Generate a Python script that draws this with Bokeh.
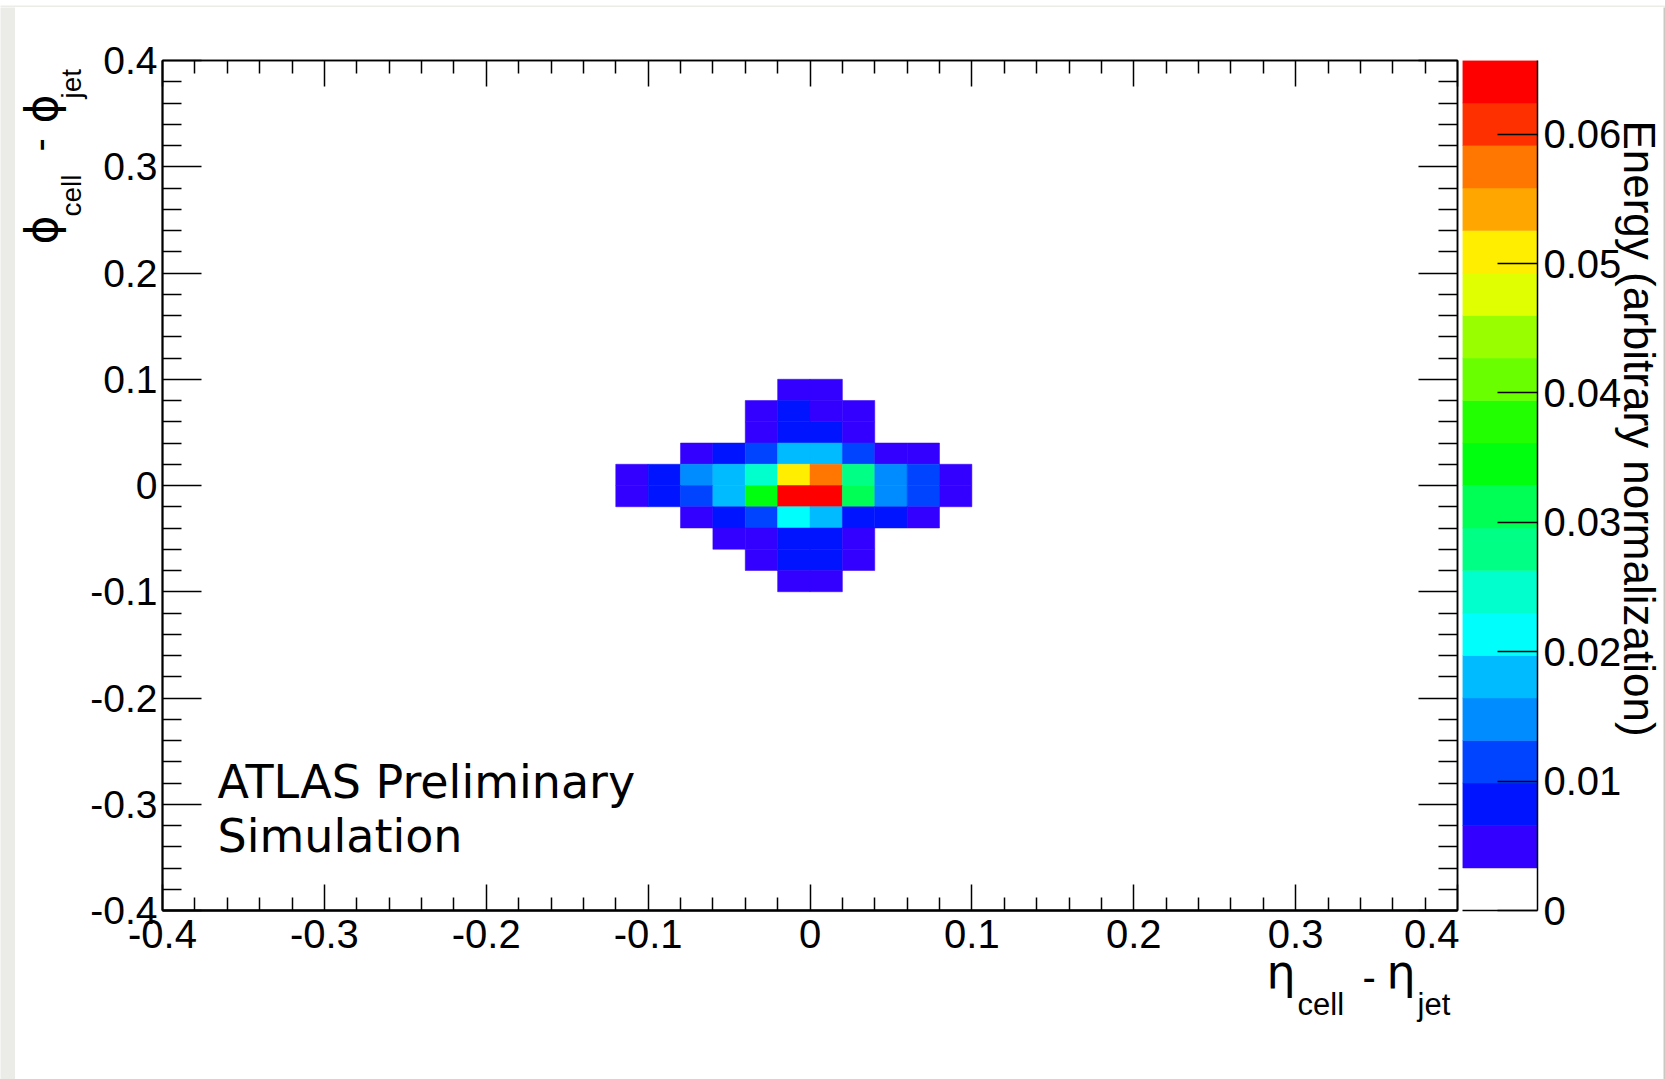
import math
import numpy as np
from bokeh.plotting import figure
from bokeh.models import (Range1d, LinearAxis, FixedTicker, Label, ColumnDataSource,
                          LinearColorMapper)
from bokeh.layouts import row, column
from bokeh.transform import transform
from bokeh.embed import file_html
from bokeh.resources import INLINE

# ---------------- data ----------------
# lower edges of the eta / phi bins (bin width 0.02)
eta_low = [-0.12, -0.10, -0.08, -0.06, -0.04, -0.02, 0.00, 0.02, 0.04, 0.06, 0.08]
phi_low = [0.08, 0.06, 0.04, 0.02, 0.00, -0.02, -0.04, -0.06, -0.08, -0.10]
bin_width = 0.02

# energy per cell, one row per phi bin (top to bottom), one column per eta bin
energy_phi_p08 = [0, 0, 0, 0, 0, 0.0048, 0.0045, 0, 0, 0, 0]
energy_phi_p06 = [0, 0, 0, 0, 0.0052, 0.0078, 0.0056, 0.0041, 0, 0, 0]
energy_phi_p04 = [0, 0, 0, 0, 0.0058, 0.0088, 0.0080, 0.0050, 0, 0, 0]
energy_phi_p02 = [0, 0, 0.0040, 0.0085, 0.0118, 0.0182, 0.0176, 0.0112, 0.0051, 0.0043, 0]
energy_phi_p00 = [0.0046, 0.0080, 0.0150, 0.0185, 0.0250, 0.0510, 0.0575, 0.0282, 0.0147, 0.0115, 0.0045]
energy_phi_m02 = [0.0047, 0.0079, 0.0120, 0.0178, 0.0345, 0.0657, 0.0640, 0.0312, 0.0150, 0.0113, 0.0044]
energy_phi_m04 = [0, 0, 0.0048, 0.0084, 0.0110, 0.0215, 0.0185, 0.0088, 0.0076, 0.0049, 0]
energy_phi_m06 = [0, 0, 0, 0.0042, 0.0055, 0.0086, 0.0083, 0.0053, 0, 0, 0]
energy_phi_m08 = [0, 0, 0, 0, 0.0049, 0.0078, 0.0081, 0.0047, 0, 0, 0]
energy_phi_m10 = [0, 0, 0, 0, 0, 0.0045, 0.0043, 0, 0, 0, 0]
energy_rows = [energy_phi_p08, energy_phi_p06, energy_phi_p04, energy_phi_p02, energy_phi_p00,
               energy_phi_m02, energy_phi_m04, energy_phi_m06, energy_phi_m08, energy_phi_m10]

x_ticks = [-0.4, -0.3, -0.2, -0.1, 0.0, 0.1, 0.2, 0.3, 0.4]
x_tick_labels = ["-0.4", "-0.3", "-0.2", "-0.1", "0", "0.1", "0.2", "0.3", "0.4"]
y_ticks = [-0.4, -0.3, -0.2, -0.1, 0.0, 0.1, 0.2, 0.3, 0.4]
y_tick_labels = ["-0.4", "-0.3", "-0.2", "-0.1", "0", "0.1", "0.2", "0.3", "0.4"]
z_ticks = [0.0, 0.01, 0.02, 0.03, 0.04, 0.05, 0.06]
z_tick_labels = ["0", "0.01", "0.02", "0.03", "0.04", "0.05", "0.06"]
n_contours = 20

# ROOT "pretty" palette sampled at 20 contours (lowest contour left white)
palette = ["#ffffff", "#3300ff", "#0014ff", "#0044ff", "#008bff", "#00bbff", "#00fffc",
           "#00ffcc", "#00ff85", "#00ff55", "#00ff0e", "#22ff00", "#69ff00", "#99ff00",
           "#e0ff00", "#ffee00", "#ffa700", "#ff7700", "#ff3000", "#ff0000"]

# ---------------- geometry / style ----------------
FONT = "Liberation Sans"
GREEK = "DejaVu Sans"
GREY_LIGHT = "#ebebe8"
GREY_DARK = "#c9c9c1"
W, H = 1665, 1079
TOP, LEFT, RIGHT = 7, 15, 5
YT_W = 71                      # room for the rotated y title
P_LB, FRAME_W, P_RB = 76, 1295, 2
P_TB, FRAME_H, P_BB = 53, 850, 55
CB_LB, CB_W, CB_RB = 3, 75, 84
FRAME_L = LEFT + YT_W + P_LB    # 162
FRAME_T = TOP + P_TB            # 60
INNER_W = P_LB + FRAME_W + P_RB + CB_LB + CB_W + CB_RB
CBT_W = W - LEFT - YT_W - INNER_W - RIGHT
P_H = P_TB + FRAME_H + P_BB
XT_H = H - TOP - P_H
BASE_SHIFT = 0.36              # label anchor -> alphabetic baseline correction (em)

zmax = max(max(r) for r in energy_rows)

cells = dict(left=[], right=[], top=[], bottom=[], energy=[])
for phi0, vals in zip(phi_low, energy_rows):
    for eta0, v in zip(eta_low, vals):
        if v > 0:
            cells["left"].append(eta0)
            cells["right"].append(eta0 + bin_width)
            cells["bottom"].append(phi0)
            cells["top"].append(phi0 + bin_width)
            cells["energy"].append(v)
src = ColumnDataSource(cells)

mapper = LinearColorMapper(palette=palette, low=0.0, high=zmax)


def blank(width, height, x_range, y_range, fill="white"):
    f = figure(frame_width=width, frame_height=height, x_range=x_range, y_range=y_range,
               min_border=0, x_axis_type=None, y_axis_type=None,
               output_backend="svg", toolbar_location=None)
    f.grid.visible = False
    f.outline_line_color = None
    f.background_fill_color = fill
    f.border_fill_color = fill
    return f


# ---------------- main plot ----------------
p = figure(x_range=Range1d(-0.4, 0.4), y_range=Range1d(-0.4, 0.4),
           frame_width=FRAME_W, frame_height=FRAME_H,
           min_border_left=P_LB, min_border_right=P_RB,
           min_border_top=P_TB, min_border_bottom=P_BB,
           x_axis_type=None, y_axis_type=None,
           output_backend="svg", toolbar_location=None)
p.grid.visible = False
p.outline_line_color = "black"
p.outline_line_width = 1.5
p.background_fill_color = "white"
p.border_fill_color = "white"

p.quad(left="left", right="right", top="top", bottom="bottom", source=src,
       fill_color=transform("energy", mapper), line_color=transform("energy", mapper),
       line_width=0.5)


def minor_of(ticks, n=5):
    out = []
    for a, b in zip(ticks[:-1], ticks[1:]):
        for k in range(1, n):
            out.append(a + (b - a) * k / n)
    return out


def style_axis(ax, ticks, labels, tick_in, show_labels, line_width, size="40px"):
    ax.ticker = FixedTicker(ticks=ticks, minor_ticks=minor_of(ticks))
    ax.major_tick_in = tick_in
    ax.major_tick_out = 0
    ax.minor_tick_in = tick_in // 2
    ax.minor_tick_out = 0
    ax.axis_line_width = line_width
    ax.axis_line_color = "black"
    ax.major_tick_line_width = 1.5
    ax.minor_tick_line_width = 1.5
    ax.major_tick_line_color = "black"
    ax.minor_tick_line_color = "black"
    if show_labels:
        ax.major_label_overrides = dict(zip(ticks, labels))
        ax.major_label_text_font = FONT
        ax.major_label_text_font_size = size
        ax.major_label_text_color = "black"
    else:
        ax.major_label_overrides = {t: "" for t in ticks}
        ax.major_label_text_font_size = "0px"
        ax.major_label_standoff = 0


xb = LinearAxis()
style_axis(xb, x_ticks, x_tick_labels, 26, True, 2.5)
xb.major_label_standoff = 9
p.add_layout(xb, "below")
xt_ax = LinearAxis()
style_axis(xt_ax, x_ticks, x_tick_labels, 26, False, 1.5)
p.add_layout(xt_ax, "above")
yl = LinearAxis()
style_axis(yl, y_ticks, y_tick_labels, 39, True, 2, size="39px")
yl.major_label_standoff = 5
p.add_layout(yl, "left")
yr = LinearAxis()
style_axis(yr, y_ticks, y_tick_labels, 39, False, 1.5)
p.add_layout(yr, "right")


def px2x(px):
    return -0.4 + (px - FRAME_L) / FRAME_W * 0.8


def py2y(py):
    return 0.4 - (py - FRAME_T) / FRAME_H * 0.8


# ATLAS label inside the frame
for txt, base in (("ATLAS Preliminary", 798), ("Simulation", 852)):
    d = BASE_SHIFT * 46
    p.add_layout(Label(x=px2x(217), y=py2y(base - d), text=txt, text_font=GREEK,
                       text_font_size="46px", text_color="black",
                       text_baseline="alphabetic"))

# ---------------- colour scale ----------------
cb = figure(x_range=Range1d(0, 1), y_range=Range1d(0, zmax),
            frame_width=CB_W, frame_height=FRAME_H,
            min_border_left=CB_LB, min_border_right=CB_RB,
            min_border_top=P_TB, min_border_bottom=P_BB,
            x_axis_type=None, y_axis_type=None,
            output_backend="svg", toolbar_location=None)
cb.grid.visible = False
cb.outline_line_color = None
cb.background_fill_color = "white"
cb.border_fill_color = "white"

edges = np.linspace(0.0, zmax, n_contours + 1)
bands = ColumnDataSource(dict(bottom=edges[:-1], top=edges[1:],
                              mid=0.5 * (edges[:-1] + edges[1:])))
cb.quad(left=0, right=1, bottom="bottom", top="top", source=bands,
        fill_color=transform("mid", mapper), line_color=transform("mid", mapper),
        line_width=0.5)

zr = LinearAxis()
zr.ticker = FixedTicker(ticks=z_ticks, minor_ticks=[])
zr.major_label_overrides = dict(zip(z_ticks, z_tick_labels))
zr.major_tick_in = 40
zr.major_tick_out = 0
zr.major_tick_line_width = 1.5
zr.major_tick_line_color = "black"
zr.axis_line_width = 1.5
zr.axis_line_color = "black"
zr.major_label_text_font = FONT
zr.major_label_text_font_size = "40px"
zr.major_label_text_color = "black"
zr.major_label_standoff = 6
cb.add_layout(zr, "right")

zb = LinearAxis()
zb.ticker = FixedTicker(ticks=[], minor_ticks=[])
zb.axis_line_width = 1.5
zb.axis_line_color = "black"
zb.major_label_text_font_size = "0px"
zb.major_label_standoff = 0
cb.add_layout(zb, "below")

# ---------------- base page ----------------
top_bar = blank(W, TOP, Range1d(0, 1), Range1d(0, 1), fill=GREY_LIGHT)
left_bar = blank(LEFT, H - TOP, Range1d(0, 1), Range1d(0, 1), fill=GREY_LIGHT)
right_bar = blank(RIGHT, H - TOP, Range1d(0, 1), Range1d(0, 1), fill=GREY_DARK)
yt_pad = blank(YT_W, H - TOP, Range1d(0, 1), Range1d(0, 1))
xt_pad = blank(INNER_W, XT_H, Range1d(0, 1), Range1d(0, 1))
cbt_pad = blank(CBT_W, H - TOP, Range1d(0, 1), Range1d(0, 1))

inner = column(row(p, cb), xt_pad)
base = column(top_bar, row(left_bar, yt_pad, inner, cbt_pad, right_bar))

# ---------------- transparent overlay for the axis titles (page pixels) ----------------
ov = blank(W, H, Range1d(0, W), Range1d(H, 0), fill=None)
ov.margin = (-H, 0, 0, 0)


def put(text, bx, by, font, size_px, angle=0.0, align="left"):
    """Place text so that its alphabetic baseline starts at page pixel (bx, by)."""
    d = BASE_SHIFT * size_px
    ux, uy = -math.sin(angle), math.cos(angle)   # text 'up' direction (y up)
    ov.add_layout(Label(x=bx + ux * d, y=by - uy * d, text=text, text_font=font,
                        text_font_size=f"{size_px}px", text_color="black",
                        angle=angle, text_align=align, text_baseline="alphabetic"))


R = math.pi / 2
# y-axis title  phi_cell - phi_jet
put("ϕ", 57, 244, GREEK, 44, angle=R)
put("cell", 81, 216, FONT, 28, angle=R)
put("-", 53, 151, FONT, 40, angle=R)
put("ϕ", 57, 123, GREEK, 44, angle=R)
put("jet", 81, 98, FONT, 28, angle=R)

# x-axis title  eta_cell - eta_jet
put("η", 1266, 988, GREEK, 46)
put("cell", 1297, 1015, FONT, 31)
put("-", 1362, 991, FONT, 40)
put("η", 1386, 988, GREEK, 46)
put("jet", 1417, 1015, FONT, 31)

# colour-scale title
put("Energy (arbitrary normalization)", 1623, 428, FONT, 44,
    angle=-math.pi / 2, align="center")

layout = column(base, ov)

open("out.html", "w").write(file_html(layout, INLINE))
